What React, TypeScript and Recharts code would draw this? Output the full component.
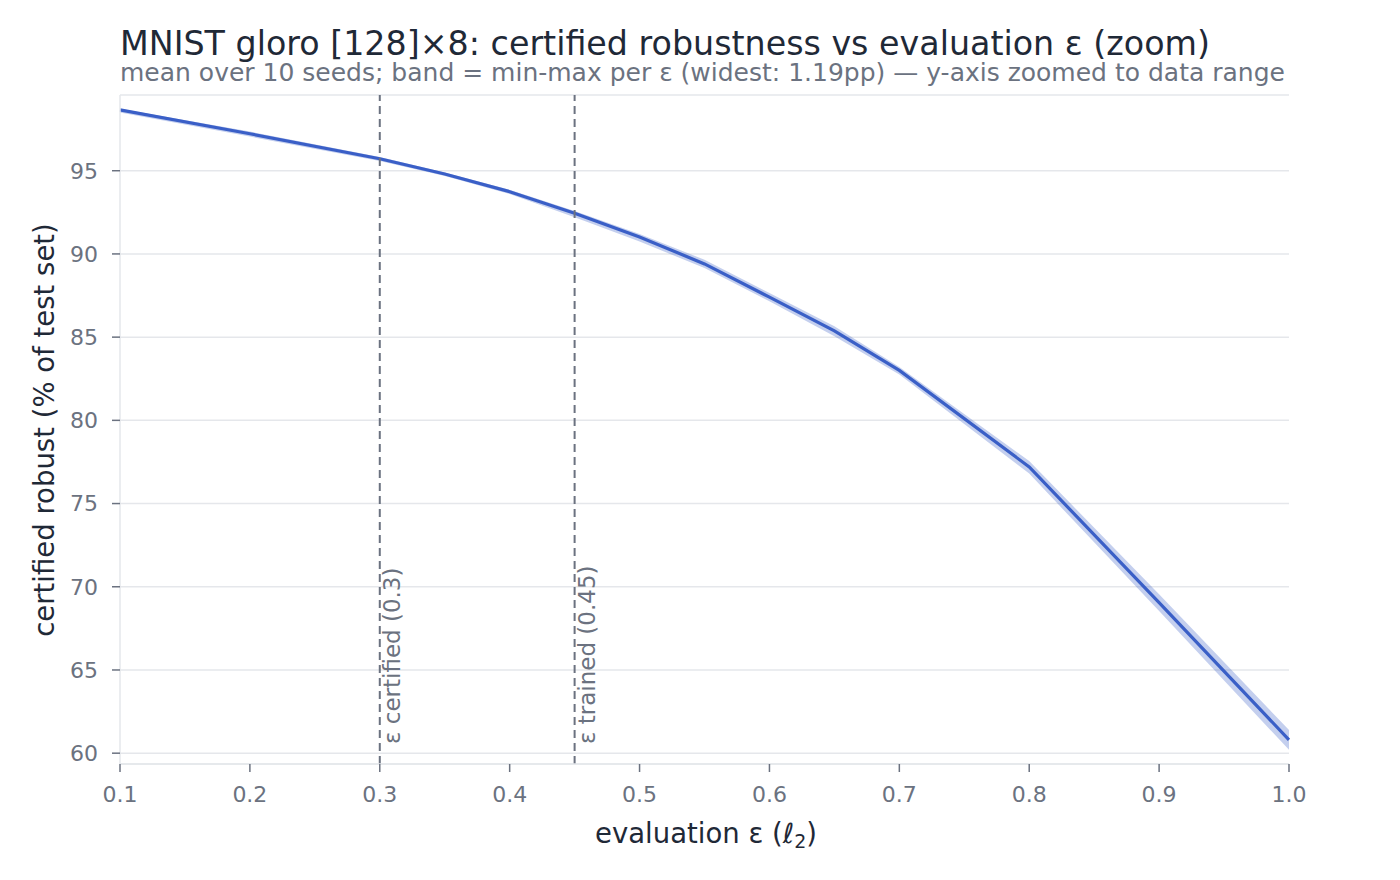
import {
  ComposedChart,
  Area,
  Line,
  XAxis,
  YAxis,
  CartesianGrid,
  ReferenceLine,
} from 'recharts'

// evaluation epsilons and certified robust % (mean, min, max over seeds)
const EPS = [0.1, 0.2, 0.3, 0.35, 0.4, 0.45, 0.5, 0.55, 0.6, 0.65, 0.7, 0.8, 0.9, 1.0]
const MEAN = [98.66, 97.22, 95.72, 94.8, 93.74, 92.45, 91.02, 89.4, 87.4, 85.38, 83.0, 77.2, 69.05, 60.8]
const MIN = [98.5, 97.05, 95.58, 94.68, 93.6, 92.2, 90.75, 89.15, 87.15, 85.05, 82.75, 76.8, 68.55, 60.2]
const MAX = [98.72, 97.35, 95.82, 94.9, 93.85, 92.58, 91.2, 89.65, 87.65, 85.65, 83.2, 77.55, 69.55, 61.39]

const X_TICKS = [0.1, 0.2, 0.3, 0.4, 0.5, 0.6, 0.7, 0.8, 0.9, 1.0]
const Y_TICKS = [60, 65, 70, 75, 80, 85, 90, 95]

const MARKERS = [
  { eps: 0.3, label: 'ε certified (0.3)' },
  { eps: 0.45, label: 'ε trained (0.45)' },
]

const data = EPS.map((e, i) => ({ eps: e, mean: MEAN[i], band: [MIN[i], MAX[i]] }))

const FONT = '"DejaVu Sans", sans-serif'
const BLUE = '#3a5fc7'
const GRAY = '#6b7280'
const DARK = '#1f2937'
const GRID = '#e5e7eb'

const MarkerLabel = ({ viewBox, text }: any) => {
  const x = viewBox.x + 14
  const y = viewBox.y + viewBox.height - 20
  return (
    <text
      x={x}
      y={y}
      transform={`rotate(-90 ${x} ${y})`}
      fill={GRAY}
      fontSize={23}
      fontFamily={FONT}
      textAnchor="start"
      dominantBaseline="middle"
    >
      {text}
    </text>
  )
}

export default function App() {
  return (
    <div style={{ position: 'absolute', left: 0, top: 0, width: 1400, height: 880, background: '#fff' }}>
      <ComposedChart
        width={1400}
        height={880}
        data={data}
        margin={{ top: 95, right: 111, left: 0, bottom: 0 }}
      >
        <CartesianGrid vertical={false} stroke={GRID} strokeWidth={1.5} />
        <XAxis
          dataKey="eps"
          type="number"
          domain={[0.1, 1.0]}
          ticks={X_TICKS}
          tickFormatter={(v: number) => v.toFixed(1)}
          height={116}
          stroke={GRID}
          strokeWidth={1.5}
          tickLine={{ stroke: GRAY, strokeWidth: 1.5 }}
          tickSize={8}
          tick={{ fill: GRAY, fontSize: 22, fontFamily: FONT }}
          tickMargin={14}
        />
        <YAxis
          type="number"
          domain={[59.35, 99.55]}
          allowDataOverflow
          ticks={Y_TICKS}
          width={120}
          stroke={GRID}
          strokeWidth={1.5}
          tickLine={{ stroke: GRAY, strokeWidth: 1.5 }}
          tickSize={8}
          tick={{ fill: GRAY, fontSize: 22, fontFamily: FONT }}
          tickMargin={14}
        />
        <Area
          dataKey="band"
          type="linear"
          stroke="none"
          fill={BLUE}
          fillOpacity={0.3}
          isAnimationActive={false}
          activeDot={false}
        />
        <Line
          dataKey="mean"
          type="linear"
          stroke={BLUE}
          strokeWidth={3.2}
          dot={false}
          activeDot={false}
          isAnimationActive={false}
        />
        {MARKERS.map((m) => (
          <ReferenceLine
            key={m.eps}
            x={m.eps}
            stroke={GRAY}
            strokeWidth={2}
            strokeDasharray="8 5"
            label={<MarkerLabel text={m.label} />}
          />
        ))}
      </ComposedChart>
      <svg
        width={1400}
        height={880}
        style={{ position: 'absolute', left: 0, top: 0, pointerEvents: 'none' }}
      >
        <text x={120} y={55} fill={DARK} fontSize={33.3} fontFamily={FONT}>
          MNIST gloro [128]×8: certified robustness vs evaluation ε (zoom)
        </text>
        <text x={120} y={81} fill={GRAY} fontSize={25} fontFamily={FONT}>
          mean over 10 seeds; band = min-max per ε (widest: 1.19pp) — y-axis zoomed to data range
        </text>
        <text x={706} y={843} fill={DARK} fontSize={27.5} fontFamily={FONT} textAnchor="middle">
          evaluation ε (<tspan fontStyle="italic">ℓ</tspan>
          <tspan fontSize={19} dy={5}>2</tspan>
          <tspan dy={-5}>)</tspan>
        </text>
        <text
          x={54}
          y={430}
          transform="rotate(-90 54 430)"
          fill={DARK}
          fontSize={27.5}
          fontFamily={FONT}
          textAnchor="middle"
        >
          certified robust (% of test set)
        </text>
      </svg>
    </div>
  )
}
